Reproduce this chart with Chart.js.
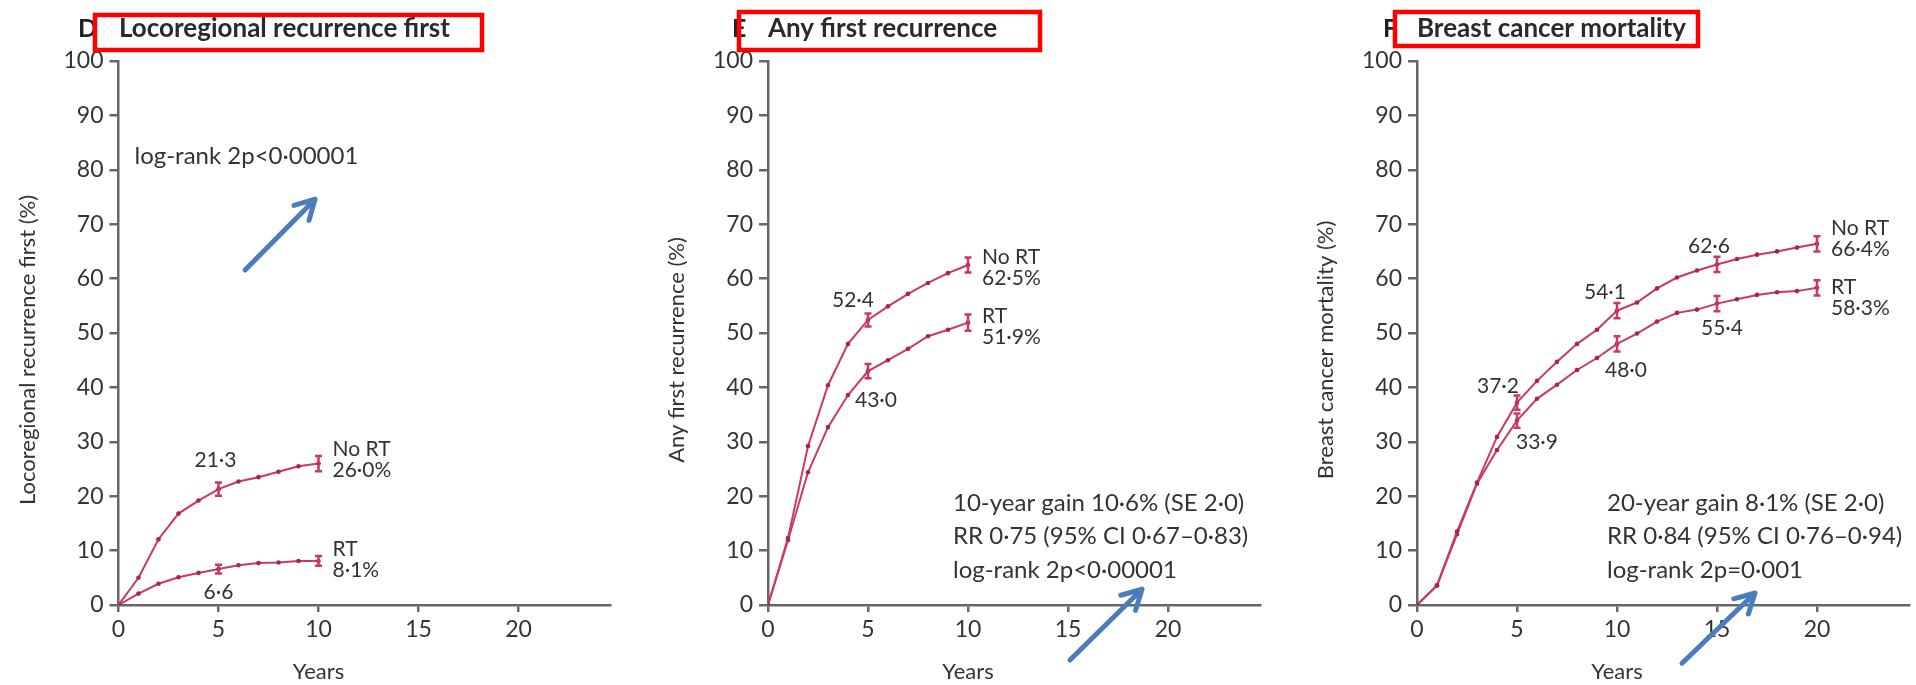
<!DOCTYPE html>
<html>
<head>
<meta charset="utf-8">
<script src="https://cdn.jsdelivr.net/npm/chart.js@4/dist/chart.umd.min.js"></script>
<style>
  body { margin: 0; background: #fff; width: 1916px; height: 685px; overflow: hidden; position: relative; }
  canvas { position: absolute; top: 0; }
</style>
</head>
<body>
<canvas id="chartD" width="638" height="685" style="left:0"></canvas>
<canvas id="chartE" width="638" height="685" style="left:638px"></canvas>
<canvas id="chartF" width="640" height="685" style="left:1276px"></canvas>
<script>
// cumulative risk (%) by year since randomisation
const yearsTo10 = [0, 1, 2, 3, 4, 5, 6, 7, 8, 9, 10];
const yearsTo20 = [0, 1, 2, 3, 4, 5, 6, 7, 8, 9, 10, 11, 12, 13, 14, 15, 16, 17, 18, 19, 20];

const locoNoRT = [0, 5.0, 12.1, 16.8, 19.2, 21.3, 22.7, 23.5, 24.5, 25.5, 26.0];
const locoRT = [0, 2.1, 3.9, 5.1, 5.9, 6.6, 7.3, 7.7, 7.8, 8.1, 8.1];

const anyNoRT = [0, 12.3, 29.2, 40.4, 48.0, 52.4, 54.9, 57.2, 59.2, 61.0, 62.5];
const anyRT = [0, 11.9, 24.4, 32.7, 38.6, 43.0, 45.0, 47.1, 49.4, 50.6, 51.9];

const mortNoRT = [0, 3.6, 13.5, 22.5, 30.9, 37.2, 41.2, 44.7, 48.0, 50.6, 54.1, 55.6, 58.2, 60.2, 61.5, 62.6, 63.6, 64.4, 65.0, 65.7, 66.4];
const mortRT = [0, 3.6, 13.0, 22.3, 28.5, 33.9, 37.9, 40.5, 43.2, 45.4, 48.0, 49.9, 52.1, 53.7, 54.3, 55.4, 56.2, 57.0, 57.5, 57.7, 58.3];

// standard errors shown as bars
const locoErrYears = [5, 10];
const locoNoRTErr = [1.2, 1.4];
const locoRTErr = [0.8, 0.9];
const anyErrYears = [5, 10];
const anyNoRTErr = [1.2, 1.4];
const anyRTErr = [1.3, 1.5];
const mortErrYears = [5, 10, 15, 20];
const mortNoRTErr = [1.3, 1.4, 1.4, 1.4];
const mortRTErr = [1.3, 1.4, 1.4, 1.4];

const xTickValues = [0, 5, 10, 15, 20];
const yTickValues = [0, 10, 20, 30, 40, 50, 60, 70, 80, 90, 100];

const locoNotes = ['log-rank 2p<0·00001'];
const anyNotes = ['10-year gain 10·6% (SE 2·0)', 'RR 0·75 (95% CI 0·67–0·83)', 'log-rank 2p<0·00001'];
const mortNotes = ['20-year gain 8·1% (SE 2·0)', 'RR 0·84 (95% CI 0·76–0·94)', 'log-rank 2p=0·001'];

const FONT = 'Lato';
const LINE = '#c93a62';
const DOT = '#a8244a';
const INK = '#333';
const AXIS = '#666';
const X_MAX = 24.6;
const PLOT_TOP = 61;
const PLOT_BOTTOM = 605;

const fmt = v => v.toFixed(1).replace('.', '·');

const panels = [
  {
    id: 'chartD', letter: 'D', title: 'Locoregional recurrence first', yTitle: 'Locoregional recurrence first (%)',
    years: yearsTo10, noRT: locoNoRT, rt: locoRT,
    errYears: locoErrYears, noRTErr: locoNoRTErr, rtErr: locoRTErr,
    notes: locoNotes, notesAt: [0.8, 82.4],
    axisLeft: 118.5, box: [95, 15, 387, 35], letterX: 78, titleX: 119,
    callouts: [{ s: 0, year: 5, dx: -3, dy: -29 }, { s: 1, year: 5, dx: 0, dy: 23 }],
    endDy: [-14, -12],
    arrow: [6.33, 61.6, 9.83, 74.6]
  },
  {
    id: 'chartE', letter: 'E', title: 'Any first recurrence', yTitle: 'Any first recurrence (%)',
    years: yearsTo10, noRT: anyNoRT, rt: anyRT,
    errYears: anyErrYears, noRTErr: anyNoRTErr, rtErr: anyRTErr,
    notes: anyNotes, notesAt: [9.25, 18.75],
    axisLeft: 130, box: [101, 12, 301, 38], letterX: 94, titleX: 130,
    callouts: [{ s: 0, year: 5, dx: -15, dy: -20 }, { s: 1, year: 5, dx: 8, dy: 29 }],
    endDy: [-8, -6],
    arrow: [15.1, -10.1, 18.7, 2.9]
  },
  {
    id: 'chartF', letter: 'F', title: 'Breast cancer mortality', yTitle: 'Breast cancer mortality (%)',
    years: yearsTo20, noRT: mortNoRT, rt: mortRT,
    errYears: mortErrYears, noRTErr: mortNoRTErr, rtErr: mortRTErr,
    notes: mortNotes, notesAt: [9.5, 18.75],
    axisLeft: 141, box: [119, 12, 303, 34], letterX: 107, titleX: 141,
    callouts: [
      { s: 0, year: 5, dx: -19, dy: -16 }, { s: 1, year: 5, dx: 20, dy: 22 },
      { s: 0, year: 10, dx: -12, dy: -18 }, { s: 1, year: 10, dx: 9, dy: 26 },
      { s: 0, year: 15, dx: -8, dy: -18 }, { s: 1, year: 15, dx: 5, dy: 25 }
    ],
    endDy: [-16, -1],
    arrow: [13.25, -10.7, 16.9, 2.2]
  }
];

function text(ctx, str, x, y, font, align, color) {
  ctx.font = font;
  ctx.textAlign = align || 'left';
  ctx.textBaseline = 'middle';
  ctx.fillStyle = color || INK;
  ctx.fillText(str, x, y);
}

// error bars, value labels, notes, arrow and panel heading
const overlay = {
  id: 'overlay',
  afterDatasetsDraw(chart) {
    const p = chart.config.options.panel;
    const ctx = chart.ctx;
    const xs = chart.scales.x, ys = chart.scales.y;
    const series = [p.noRT, p.rt];
    const errs = [p.noRTErr, p.rtErr];
    ctx.save();

    ctx.strokeStyle = LINE;
    ctx.lineWidth = 2.5;
    p.errYears.forEach((yr, i) => {
      const px = xs.getPixelForValue(yr);
      series.forEach((vals, s) => {
        const v = vals[p.years.indexOf(yr)];
        const top = ys.getPixelForValue(v + errs[s][i]);
        const bot = ys.getPixelForValue(v - errs[s][i]);
        ctx.beginPath();
        ctx.moveTo(px, top); ctx.lineTo(px, bot);
        ctx.moveTo(px - 3.5, top); ctx.lineTo(px + 3.5, top);
        ctx.moveTo(px - 3.5, bot); ctx.lineTo(px + 3.5, bot);
        ctx.stroke();
      });
    });

    p.callouts.forEach(c => {
      const v = series[c.s][p.years.indexOf(c.year)];
      text(ctx, fmt(v), xs.getPixelForValue(c.year) + c.dx, ys.getPixelForValue(v) + c.dy, `21px ${FONT}`, 'center');
    });

    const last = p.years.length - 1;
    const endX = xs.getPixelForValue(p.years[last]) + 14;
    ['No RT', 'RT'].forEach((name, s) => {
      const v = series[s][last];
      const y0 = ys.getPixelForValue(v) + p.endDy[s];
      text(ctx, name, endX, y0, `21px ${FONT}`, 'left');
      text(ctx, fmt(v) + '%', endX, y0 + 21, `21px ${FONT}`, 'left');
    });

    const nx = xs.getPixelForValue(p.notesAt[0]);
    const ny = ys.getPixelForValue(p.notesAt[1]);
    p.notes.forEach((line, i) => text(ctx, line, nx, ny + i * 33.5, `24px ${FONT}`, 'left'));

    // blue pointer arrow
    const [ax0, ay0, ax1, ay1] = p.arrow;
    const x0 = xs.getPixelForValue(ax0), y0 = ys.getPixelForValue(ay0);
    const x1 = xs.getPixelForValue(ax1), y1 = ys.getPixelForValue(ay1);
    const ang = Math.atan2(y1 - y0, x1 - x0);
    ctx.strokeStyle = '#4a7ebb';
    ctx.lineWidth = 5;
    ctx.lineCap = 'round';
    ctx.lineJoin = 'round';
    ctx.beginPath();
    ctx.moveTo(x0, y0); ctx.lineTo(x1, y1);
    ctx.moveTo(x1 - 22 * Math.cos(ang - 0.5), y1 - 22 * Math.sin(ang - 0.5));
    ctx.lineTo(x1, y1);
    ctx.lineTo(x1 - 22 * Math.cos(ang + 0.5), y1 - 22 * Math.sin(ang + 0.5));
    ctx.stroke();

    // axis titles
    text(ctx, 'Years', xs.getPixelForValue(10), 672, `22px ${FONT}`, 'center');
    ctx.save();
    ctx.translate(p.axisLeft - 91, 350);
    ctx.rotate(-Math.PI / 2);
    text(ctx, p.yTitle, 0, 0, `22px ${FONT}`, 'center');
    ctx.restore();

    // heading with red frame
    text(ctx, p.letter, p.letterX, 29, `bold 25px ${FONT}`, 'left', '#222');
    text(ctx, p.title, p.titleX, 29, `bold 26px ${FONT}`, 'left', '#2a2a2a');
    const [bx, by, bw, bh] = p.box;
    ctx.strokeStyle = '#ff0000';
    ctx.lineWidth = 4.5;
    ctx.lineJoin = 'miter';
    ctx.strokeRect(bx, by, bw, bh);
    ctx.restore();
  }
};

panels.forEach(p => {
  const canvas = document.getElementById(p.id);
  const w = canvas.width;
  const plotRight = p.axisLeft + X_MAX * 20;
  const makeSet = (label, vals) => ({
    label,
    data: p.years.map((x, i) => ({ x, y: vals[i] })),
    borderColor: LINE,
    borderWidth: 2,
    pointRadius: 2.3,
    pointBackgroundColor: DOT,
    pointBorderWidth: 0,
    tension: 0
  });
  new Chart(canvas, {
    type: 'line',
    data: { datasets: [makeSet('No RT', p.noRT), makeSet('RT', p.rt)] },
    options: {
      panel: p,
      responsive: false,
      animation: false,
      layout: { padding: { top: PLOT_TOP, left: 0, right: w - plotRight, bottom: 0 } },
      plugins: { legend: { display: false }, tooltip: { enabled: false } },
      scales: {
        x: {
          type: 'linear', min: 0, max: X_MAX,
          afterFit: s => { s.height = canvas.height - PLOT_BOTTOM; },
          afterBuildTicks: s => { s.ticks = xTickValues.map(value => ({ value })); },
          ticks: { color: INK, font: { family: FONT, size: 23 }, padding: 4, maxRotation: 0 },
          grid: { drawOnChartArea: false, tickLength: 7, color: AXIS, lineWidth: 2.5 },
          border: { color: AXIS, width: 2.5 }
        },
        y: {
          min: 0, max: 100,
          afterFit: s => { s.width = p.axisLeft; },
          afterBuildTicks: s => { s.ticks = yTickValues.map(value => ({ value })); },
          ticks: { color: INK, font: { family: FONT, size: 23 }, padding: 6 },
          grid: { drawOnChartArea: false, tickLength: 9, color: AXIS, lineWidth: 2.5 },
          border: { color: AXIS, width: 2.5 }
        }
      }
    },
    plugins: [overlay]
  });
});
</script>
</body>
</html>
